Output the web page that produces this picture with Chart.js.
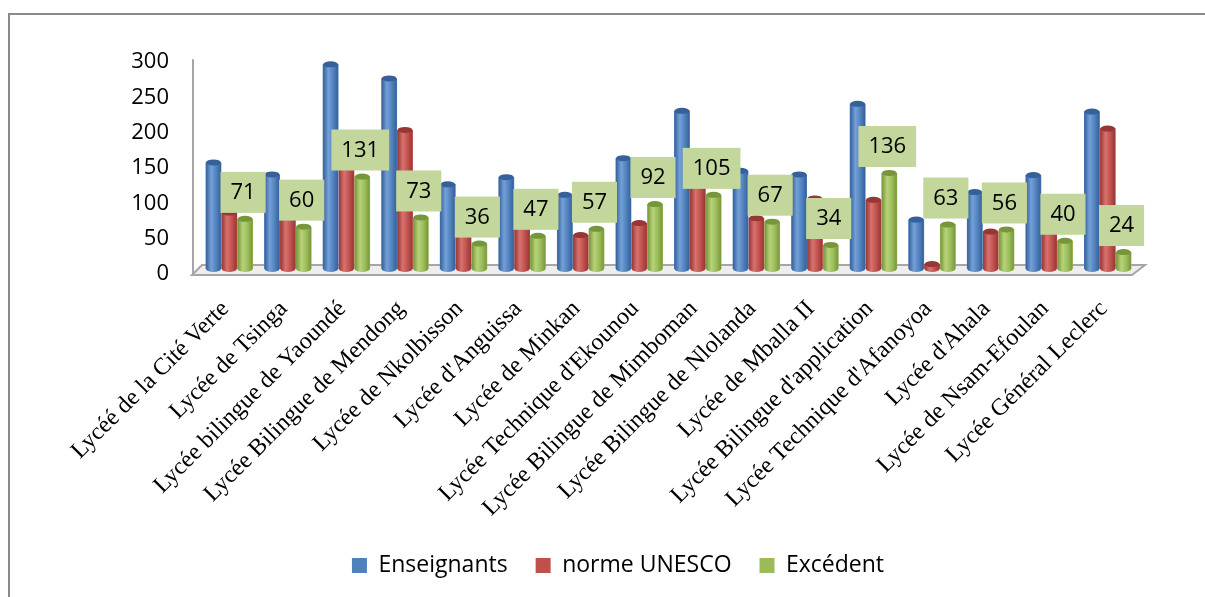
<!DOCTYPE html>
<html>
<head>
<meta charset="utf-8">
<script src="https://cdn.jsdelivr.net/npm/chart.js@4.4.0/dist/chart.umd.min.js"></script>
<style>
  html, body { margin: 0; padding: 0; background: #fff; overflow: hidden; }
  #frame { position: absolute; left: 8px; top: 13px; width: 1400px; height: 800px;
           border-left: 2px solid #8a8a8a; border-top: 2px solid #8a8a8a; }
  #chartBox { position: absolute; left: 8px; top: 13px; }
</style>
</head>
<body>
<div id="frame"></div>
<div id="chartBox"><canvas id="schoolChart" width="1220" height="584"></canvas></div>
<script>
var schools = [
  "Lycéé de la Cité Verte", "Lycée de Tsinga", "Lycée bilingue de Yaoundé",
  "Lycée Bilingue de Mendong", "Lycée de Nkolbisson", "Lycée d'Anguissa",
  "Lycée de Minkan", "Lycée Technique d'Ekounou", "Lycée Bilingue de Mimboman",
  "Lycée Bilingue de Nlolanda", "Lycée de Mballa II", "Lycée Bilingue d'application",
  "Lycée Technique d'Afanoyoa", "Lycée d'Ahala", "Lycée de Nsam-Efoulan",
  "Lycée Général Leclerc"
];
var enseignants = [151, 134, 290, 270, 120, 130, 105, 157, 224, 139, 134, 234, 70, 109, 133, 223];
var normeUnesco = [80, 74, 159, 197, 84, 83, 48, 65, 119, 72, 100, 98, 7, 53, 93, 199];
var excedent = [71, 60, 131, 73, 36, 47, 57, 92, 105, 67, 34, 136, 63, 56, 40, 24];
var yTicks = [0, 50, 100, 150, 200, 250, 300];

// base, dark edge, light highlight for each series
var shades = [
  ["#4f81bd", "#36609a", "#74a0d8"],
  ["#c0504d", "#973735", "#d8726e"],
  ["#9bbb59", "#76963a", "#b7d379"]
];

//floor and back wall line like the 3d excel chart
var floorPlugin = {
  id: "floor",
  beforeDatasetsDraw: function(chart) {
    var a = chart.chartArea;
    var ctx = chart.ctx;
    ctx.save();
    ctx.beginPath();
    ctx.moveTo(a.left - 8, a.bottom + 6);
    ctx.lineTo(a.right - 5, a.bottom + 6);
    ctx.lineTo(a.right + 8, a.bottom - 4);
    ctx.lineTo(a.left + 2, a.bottom - 4);
    ctx.closePath();
    ctx.fillStyle = "#eeeeee";
    ctx.fill();
    ctx.strokeStyle = "#a6a6a6";
    ctx.lineWidth = 2;
    ctx.stroke();
    ctx.beginPath();
    ctx.moveTo(a.left - 7, a.bottom + 6);
    ctx.lineTo(a.left - 7, a.top + 2);
    ctx.stroke();
    ctx.restore();
  }
};

//cylinders + value boxes on the Excédent series
var cylinderPlugin = {
  id: "cylinders",
  afterDatasetsDraw: function(chart) {
    var ctx = chart.ctx;
    ctx.save();
    for (var d = 0; d < chart.data.datasets.length; d++) {
      var meta = chart.getDatasetMeta(d);
      for (var i = 0; i < meta.data.length; i++) {
        var bar = meta.data[i];
        var w = bar.width - 1;
        var x0 = bar.x - w / 2;
        var g = ctx.createLinearGradient(x0, 0, x0 + w, 0);
        g.addColorStop(0, shades[d][1]);
        g.addColorStop(0.35, shades[d][2]);
        g.addColorStop(0.7, shades[d][0]);
        g.addColorStop(1, shades[d][1]);
        ctx.fillStyle = g;
        ctx.beginPath();
        ctx.rect(x0, bar.y, w, bar.base - bar.y);
        ctx.fill();
        ctx.beginPath();
        ctx.ellipse(bar.x, bar.base, w / 2, 3, 0, 0, Math.PI);
        ctx.fill();
        ctx.beginPath();
        ctx.ellipse(bar.x, bar.y, w / 2, 3, 0, 0, Math.PI * 2);
        ctx.fillStyle = shades[d][1];
        ctx.fill();
      }
    }
    var meta2 = chart.getDatasetMeta(2);
    ctx.font = "22px 'Open Sans'";
    ctx.textAlign = "center";
    ctx.textBaseline = "middle";
    for (var j = 0; j < meta2.data.length; j++) {
      var b = meta2.data[j];
      var txt = String(excedent[j]);
      var tw = ctx.measureText(txt).width + 20;
      var cx = b.x - 2;
      var bottom = b.y - 6;
      ctx.fillStyle = "#c3d69b";
      ctx.fillRect(cx - tw / 2, bottom - 41, tw, 41);
      ctx.fillStyle = "#000";
      ctx.fillText(txt, cx, bottom - 20);
    }
    ctx.restore();
  }
};

var ctx1 = document.getElementById("schoolChart");
var chart1 = new Chart(ctx1, {
  type: "bar",
  data: {
    labels: schools,
    datasets: [
      { label: "Enseignants", data: enseignants, backgroundColor: shades[0][0] },
      { label: "norme UNESCO", data: normeUnesco, backgroundColor: shades[1][0] },
      { label: "Excédent", data: excedent, backgroundColor: shades[2][0] }
    ]
  },
  options: {
    responsive: false,
    animation: false,
    layout: { padding: { top: 44, right: 91, left: 91, bottom: 10 } },
    datasets: { bar: { categoryPercentage: 0.81, barPercentage: 1.0 } },
    plugins: {
      tooltip: { enabled: false },
      legend: {
        position: "bottom",
        labels: {
          color: "#000",
          font: { family: "'Open Sans'", size: 23 },
          boxWidth: 15,
          boxHeight: 15,
          padding: 28
        }
      }
    },
    scales: {
      x: {
        grid: { display: false, drawTicks: false },
        border: { display: false },
        ticks: {
          autoSkip: false,
          minRotation: 45,
          maxRotation: 45,
          labelOffset: -4,
          padding: 26,
          color: "#000",
          font: { family: "'Liberation Serif'", size: 24 }
        },
        afterFit: function(scale) { scale.height = 257; }
      },
      y: {
        min: 0,
        max: 300,
        grid: { display: false, drawTicks: false },
        border: { display: false },
        afterBuildTicks: function(scale) {
          scale.ticks = yTicks.map(function(v) { return { value: v }; });
        },
        ticks: {
          padding: 31,
          labelOffset: 5,
          color: "#000",
          font: { family: "'Open Sans'", size: 22 }
        },
        afterFit: function(scale) { scale.width = 101; }
      }
    }
  },
  plugins: [floorPlugin, cylinderPlugin]
});
</script>
</body>
</html>
